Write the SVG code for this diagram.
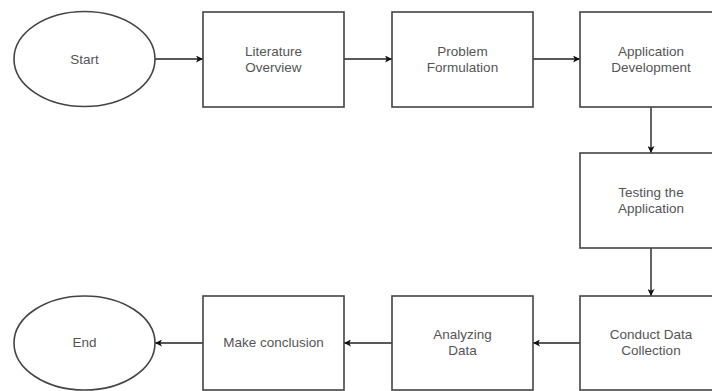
<svg xmlns="http://www.w3.org/2000/svg" width="712" height="391" viewBox="0 0 712 391">
<defs>
<marker id="ah" viewBox="0 0 10 10" refX="10" refY="5" markerWidth="7" markerHeight="7" orient="auto" markerUnits="userSpaceOnUse">
<path d="M0,0 L10,5 L0,10 L2.5,5 Z" fill="#111"/>
</marker>
</defs>
<style>
.n{fill:#fff;stroke:#444;stroke-width:1.6}
.t{font-family:"Liberation Sans",Arial,sans-serif;font-size:13.5px;fill:#555;text-anchor:middle}
.c{stroke:#222;stroke-width:1.4;fill:none;marker-end:url(#ah)}
</style>
<rect width="712" height="391" fill="#fff"/>
<g id="connectors">
<path class="c" d="M155,59 L203,59"/>
<path class="c" d="M344,59 L392,59"/>
<path class="c" d="M533,59 L580,59"/>
<path class="c" d="M651,107 L651,153"/>
<path class="c" d="M651,248 L651,296"/>
<path class="c" d="M580,343 L533,343"/>
<path class="c" d="M392,343 L344,343"/>
<path class="c" d="M203,343 L155,343"/>
</g>
<g id="start"><ellipse class="n" cx="84.5" cy="59" rx="70.5" ry="47.5"/><text class="t" x="84.5" y="64">Start</text></g>
<g id="literature"><rect class="n" x="203" y="12" width="141" height="95"/><text class="t" x="273.5" y="56">Literature</text><text class="t" x="273.5" y="72">Overview</text></g>
<g id="problem"><rect class="n" x="392" y="12" width="141" height="95"/><text class="t" x="462.5" y="56">Problem</text><text class="t" x="462.5" y="72">Formulation</text></g>
<g id="appdev"><rect class="n" x="580" y="12" width="141" height="95"/><text class="t" x="651" y="56">Application</text><text class="t" x="651" y="72">Development</text></g>
<g id="testing"><rect class="n" x="580" y="153" width="141" height="95"/><text class="t" x="651" y="197">Testing the</text><text class="t" x="651" y="213">Application</text></g>
<g id="conduct"><rect class="n" x="580" y="296" width="141" height="94"/><text class="t" x="651" y="339">Conduct Data</text><text class="t" x="651" y="355">Collection</text></g>
<g id="analyzing"><rect class="n" x="392" y="296" width="141" height="94"/><text class="t" x="462.5" y="339">Analyzing</text><text class="t" x="462.5" y="355">Data</text></g>
<g id="conclusion"><rect class="n" x="203" y="296" width="141" height="94"/><text class="t" x="273.5" y="347">Make conclusion</text></g>
<g id="end"><ellipse class="n" cx="84.5" cy="343" rx="70.5" ry="47"/><text class="t" x="84.5" y="347">End</text></g>
</svg>
